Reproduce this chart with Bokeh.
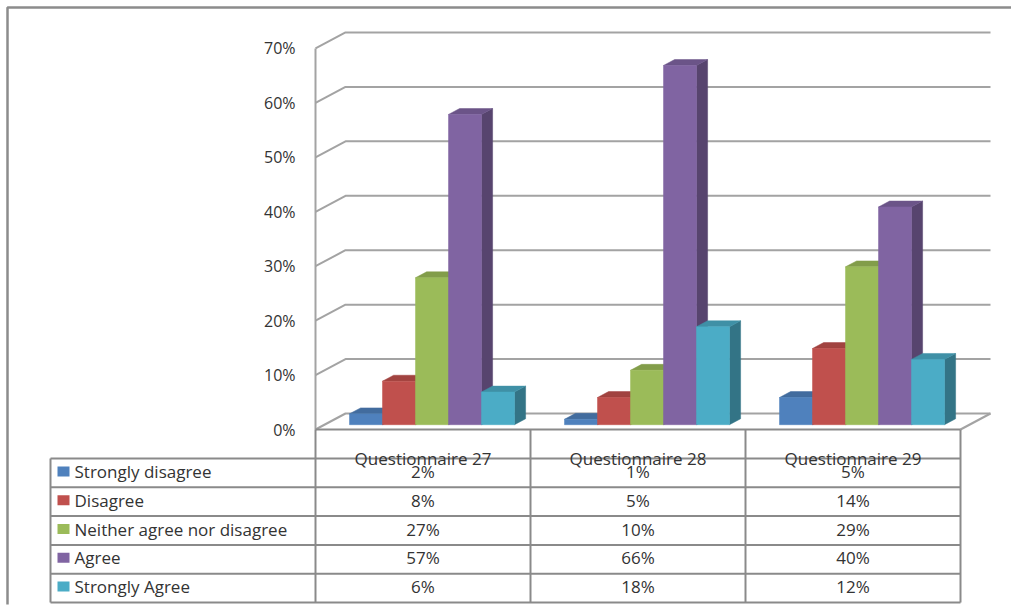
from bokeh.plotting import figure
from bokeh.models import Range1d, ColumnDataSource
from bokeh.embed import file_html
from bokeh.resources import INLINE
from bokeh.core.properties import value

# ---- data -------------------------------------------------------------
categories = ["Questionnaire 27", "Questionnaire 28", "Questionnaire 29"]
series_names = ["Strongly disagree", "Disagree", "Neither agree nor disagree",
                "Agree", "Strongly Agree"]
strongly_disagree = [2, 1, 5]
disagree = [8, 5, 14]
neither = [27, 10, 29]
agree = [57, 66, 40]
strongly_agree = [6, 18, 12]
series_values = [strongly_disagree, disagree, neither, agree, strongly_agree]
y_ticks = [0, 10, 20, 30, 40, 50, 60, 70]

front_colors = ["#4F81BD", "#C0504D", "#9BBB59", "#8064A2", "#4BACC6"]


def shade(hex_color, f):
    h = hex_color.lstrip("#")
    r, g, b = (int(h[i:i + 2], 16) for i in (0, 2, 4))
    return "#%02x%02x%02x" % (int(r * f), int(g * f), int(b * f))


side_colors = [shade(c, 0.68) for c in front_colors]
top_colors = [shade(c, 0.84) for c in front_colors]

# ---- page geometry (pixels) ------------------------------------------
W, H = 1011, 610
X0, Y0 = 315, 429        # front-left corner of the plot floor
COL = 215                # width of one category column
K = 5.443                # pixels per percentage point
DEPTH_X, DEPTH_Y = 30, 16

def sx(px):
    return (px - X0) / COL

def sy(py):
    return (Y0 - py) / K

DX = DEPTH_X / COL
DY = DEPTH_Y / K
BW = 33 / COL            # bar width in category units
GW = BW * len(series_names)
F1, F2 = 0.30, 0.67      # bar front / back depth fraction

p = figure(width=W, height=H, output_backend="svg", toolbar_location=None,
           x_range=Range1d(sx(0), sx(W)), y_range=Range1d(sy(H), sy(0)),
           min_border=0)
p.axis.visible = False
p.grid.visible = False
p.outline_line_color = None
p.background_fill_color = "white"
p.border_fill_color = "white"

FONT = value("Open Sans")
TXT = "#333333"
GRID = "#a3a3a3"
TABLE = "#8a8a8a"
TABLE_FS = "17px"

# ---- outer frame -----------------------------------------------------
p.line([sx(7), sx(7), sx(W + 5)], [sy(604), sy(7), sy(7)],
       line_color="#8c8c8c", line_width=2.5)

# ---- back wall gridlines, side wall and floor ------------------------
p.multi_line(xs=[[0, DX, len(categories) + DX] for _ in y_ticks],
             ys=[[t, t + DY, t + DY] for t in y_ticks],
             line_color=GRID, line_width=2)
p.line([len(categories), len(categories) + DX], [0, DY],
       line_color=GRID, line_width=2)
p.line([0, 0], [0, y_ticks[-1]], line_color=GRID, line_width=2)

# ---- y tick labels ---------------------------------------------------
p.text(x=[sx(295)] * len(y_ticks), y=y_ticks,
       text=["%d%%" % t for t in y_ticks],
       text_align="right", text_baseline="middle",
       text_font=FONT, text_font_size="16px", text_color=TXT)

# ---- 3D bars ---------------------------------------------------------
for j, vals in enumerate(series_values):
    xl = [i + (1 - GW) / 2 + j * BW for i in range(len(categories))]
    xr = [x + BW for x in xl]
    side = ColumnDataSource(dict(
        xs=[[r + F1 * DX, r + F2 * DX, r + F2 * DX, r + F1 * DX] for r in xr],
        ys=[[F1 * DY, F2 * DY, v + F2 * DY, v + F1 * DY] for v in vals]))
    top = ColumnDataSource(dict(
        xs=[[l + F1 * DX, r + F1 * DX, r + F2 * DX, l + F2 * DX]
            for l, r in zip(xl, xr)],
        ys=[[v + F1 * DY, v + F1 * DY, v + F2 * DY, v + F2 * DY] for v in vals]))
    p.patches("xs", "ys", source=side, fill_color=side_colors[j],
              line_color=side_colors[j], line_width=0.5)
    p.patches("xs", "ys", source=top, fill_color=top_colors[j],
              line_color=top_colors[j], line_width=0.5)
    p.quad(left=[l + F1 * DX for l in xl], right=[r + F1 * DX for r in xr],
           bottom=[F1 * DY] * len(vals), top=[v + F1 * DY for v in vals],
           fill_color=front_colors[j], line_color=front_colors[j],
           line_width=0.5)

# ---- data table ------------------------------------------------------
n_cat = len(categories)
HEAD_BOTTOM = 458
ROW = 28.8
TABLE_LEFT = 50
row_lines = [HEAD_BOTTOM + ROW * r for r in range(len(series_names) + 1)]
table_bottom = row_lines[-1]

# header row box and column separators
p.line([0, n_cat], [0, 0], line_color=TABLE, line_width=2)
p.multi_line(xs=[[c, c] for c in range(n_cat + 1)],
             ys=[[0, sy(table_bottom)] for _ in range(n_cat + 1)],
             line_color=TABLE, line_width=2)
p.multi_line(xs=[[sx(TABLE_LEFT), n_cat] for _ in row_lines],
             ys=[[sy(y), sy(y)] for y in row_lines],
             line_color=TABLE, line_width=2)
p.line([sx(TABLE_LEFT)] * 2, [sy(HEAD_BOTTOM), sy(table_bottom)],
       line_color=TABLE, line_width=2)

p.text(x=[i + 0.5 for i in range(n_cat)], y=[sy(HEAD_BOTTOM - 0.5)] * n_cat,
       text=categories, text_align="center", text_baseline="alphabetic",
       text_font=FONT, text_font_size=TABLE_FS, text_color=TXT)

row_centers = [sy(HEAD_BOTTOM + ROW * (r + 0.5) - 1.5)
               for r in range(len(series_names))]
p.rect(x=[sx(63)] * len(series_names), y=row_centers,
       width=12 / COL, height=10 / K, fill_color=front_colors,
       line_color=None)
p.text(x=[sx(74)] * len(series_names), y=row_centers, text=series_names,
       text_align="left", text_baseline="middle",
       text_font=FONT, text_font_size=TABLE_FS, text_color=TXT)

for r, vals in enumerate(series_values):
    p.text(x=[i + 0.5 for i in range(n_cat)], y=[row_centers[r]] * n_cat,
           text=["%d%%" % v for v in vals], text_align="center",
           text_baseline="middle", text_font=FONT, text_font_size=TABLE_FS,
           text_color=TXT)

open("out.html", "w").write(file_html(p, INLINE))
